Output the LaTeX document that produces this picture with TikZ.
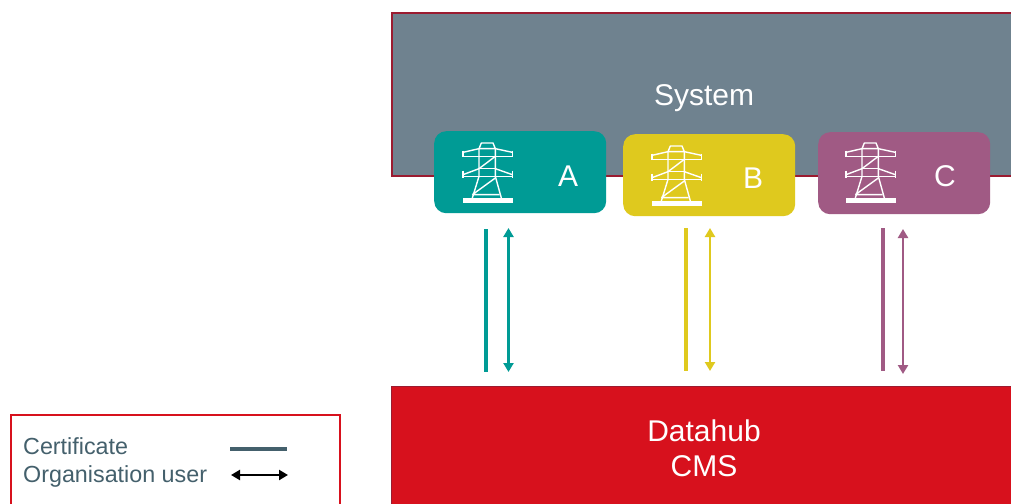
\documentclass[tikz,border=0pt]{standalone}
\usepackage{fontspec}
\setmainfont{Liberation Sans}
\usetikzlibrary{arrows.meta}
\definecolor{sysgray}{HTML}{6F828F}
\definecolor{sysedge}{HTML}{9B1B30}
\definecolor{hubred}{HTML}{D7111D}
\definecolor{teal1}{HTML}{009B95}
\definecolor{yel1}{HTML}{DFC91E}
\definecolor{pur1}{HTML}{A05A84}
\definecolor{legtext}{HTML}{44606C}
\tikzset{
  x=1pt,y=-1pt,
  unitbox/.style={rounded corners=12pt,minimum width=172pt,minimum height=82pt,inner sep=0pt,anchor=north west},
  unitlabel/.style={text=white,font=\fontsize{30}{30}\selectfont,inner sep=0pt},
  biglabel/.style={text=white,font=\fontsize{30}{35}\selectfont,align=center,inner sep=0pt},
  legendlabel/.style={text=legtext,font=\fontsize{23.3}{25}\selectfont,anchor=base west,inner sep=0pt},
  certline/.style={line width=3.6pt},
  userline/.style={line width=2.4pt,{Stealth[length=9pt,width=10pt,inset=0pt]}-{Stealth[length=9pt,width=10pt,inset=0pt]}},
  tower/.pic={
    \begin{scope}[x=0.3333pt,y=-0.3333pt,white,line width=1.4pt,line join=round]
      \fill (0,165) rectangle (149,181);
      \draw (48,17) -- (55,0) -- (90,0) -- (97,17) -- cycle;
      \draw (0,28) -- (48,17) (97,17) -- (148,28);
      \draw (0,23) -- (0,42) (148,23) -- (148,42) (0,40) -- (148,40);
      \draw (48,77) -- (97,77);
      \draw (0,95) -- (48,77) (97,77) -- (148,95);
      \draw (0,83) -- (0,105) (148,83) -- (148,105) (0,100) -- (148,100);
      \draw (48,17) -- (48,100) -- (28,165) (97,17) -- (97,100) -- (115,165);
      \draw (48,77) -- (97,40) (28,155) -- (97,105) (28,155) -- (110,155);
    \end{scope}
  }
}
\begin{document}
\begin{tikzpicture}
\useasboundingbox (0,0) rectangle (1011,503);
\fill[white] (0,0) rectangle (1011,503);
% System
\node[draw=sysedge,fill=sysgray,line width=1.6pt,minimum width=630pt,minimum height=163pt,inner sep=0pt,anchor=north west] (system) at (391,12) {};
\node[text=white,font=\fontsize{30}{30}\selectfont,inner sep=0pt] (systemlabel) at (704,98.5) {System};
% Units
\node[unitbox,fill=teal1] (a) at (434,131) {};
\node[unitbox,fill=yel1] (b) at (623,134) {};
\node[unitbox,fill=pur1] (c) at (818,132) {};
\pic at (463,143) {tower};
\pic at (652,146) {tower};
\pic at (846,143) {tower};
\node[unitlabel] (al) at (568,176) {A};
\node[unitlabel] (bl) at (753,178) {B};
\node[unitlabel] (cl) at (945,176) {C};
% Datahub
\node[fill=hubred,draw=sysedge,line width=0.8pt,minimum width=640pt,minimum height=130pt,inner sep=0pt,anchor=north west] (hub) at (391,386) {};
\node[biglabel] (hubl) at (704,448) {Datahub\\CMS};
% Connector ends
\coordinate (a1t) at (486,229); \coordinate (a1b) at (486,372);
\coordinate (a2t) at (508.5,228); \coordinate (a2b) at (508.5,372);
\coordinate (b1t) at (686,228); \coordinate (b1b) at (686,371);
\coordinate (b2t) at (710,228); \coordinate (b2b) at (710,371);
\coordinate (c1t) at (883,228); \coordinate (c1b) at (883,371);
\coordinate (c2t) at (903,229); \coordinate (c2b) at (903,374);
\draw[certline,teal1] (a1t) -- (a1b);
\draw[userline,teal1] (a2t) -- (a2b);
\draw[certline,yel1] (b1t) -- (b1b);
\draw[userline,yel1] (b2t) -- (b2b);
\draw[certline,pur1] (c1t) -- (c1b);
\draw[userline,pur1] (c2t) -- (c2b);
% Legend
\node[draw=hubred,line width=2pt,minimum width=328.5pt,minimum height=120pt,inner sep=0pt,anchor=north west] (legend) at (10,413.5) {};
\node[legendlabel] (l1) at (23,454) {Certificate};
\node[legendlabel] (l2) at (23,482) {Organisation user};
\coordinate (k1a) at (230,449); \coordinate (k1b) at (287,449);
\coordinate (k2a) at (231,475); \coordinate (k2b) at (288,475);
\draw[line width=3.6pt,legtext] (k1a) -- (k1b);
\draw[userline,black] (k2a) -- (k2b);
\end{tikzpicture}
\end{document}
